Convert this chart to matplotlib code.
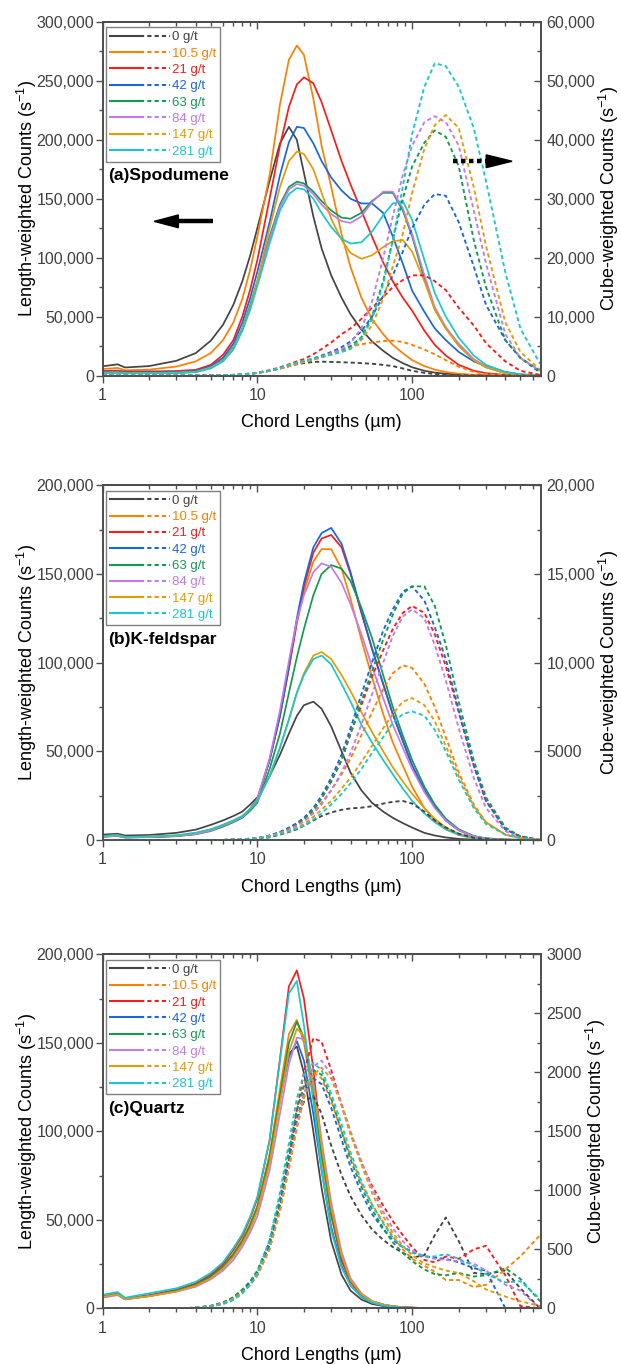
import numpy as np
import matplotlib
matplotlib.use("Agg")
import matplotlib.pyplot as plt
from matplotlib.lines import Line2D
from matplotlib.legend_handler import HandlerTuple
from matplotlib.ticker import FuncFormatter, MultipleLocator, NullFormatter, LogLocator

plt.rcParams['font.family'] = ['Liberation Sans', 'DejaVu Sans']
plt.rcParams['mathtext.default'] = 'regular'

# chord length channels (um), shared by all panels
chord = [1, 1.25, 1.4, 2, 3, 4, 5, 6, 7, 8, 9, 10, 12, 14, 16, 18, 20, 23, 26, 30, 35,
         40, 47, 55, 65, 75, 87, 100, 120, 140, 165, 200, 250, 300, 400, 500, 670]

labels = ['0 g/t', '10.5 g/t', '21 g/t', '42 g/t', '63 g/t', '84 g/t', '147 g/t', '281 g/t']
colors = ['#444444', '#ff7f00', '#ff1a1a', '#1a66e0', '#129b4f', '#c27be8', '#e69a06', '#19c8cc']

# (a) Spodumene - length weighted (thousands of counts/s)
spod_len = [
    [7.8, 9.5, 6.8, 8, 12.5, 19, 29.5, 43, 60, 80, 102, 125, 165, 197, 211, 200, 172, 135, 108, 85, 66, 52, 39, 29, 21, 15, 10.5, 7, 4, 2.5, 1.5, 0.8, 0.4, 0.2, 0.1, 0, 0],
    [5.5, 6.4, 4.4, 5, 7.6, 12, 19, 30, 45, 65, 90, 118, 170, 230, 268, 280, 272, 235, 195, 160, 120, 92, 66, 48, 35, 26, 19, 13, 8, 5, 3, 1.5, 0.6, 0.3, 0.1, 0, 0],
    [3.8, 4.2, 3.3, 3.5, 3.8, 4.8, 9, 17.5, 30, 50, 73, 98, 150, 195, 228, 247, 253, 248, 232, 208, 182, 162, 140, 118, 96, 80, 66, 55, 38, 26, 17, 9, 4, 2, 0.5, 0.1, 0],
    [3, 3.3, 2.6, 2.8, 3, 4, 8, 15, 27, 45, 66, 88, 130, 170, 198, 211, 210, 197, 182, 168, 157, 150, 146, 146, 138, 118, 95, 72, 54, 40, 30, 20, 12, 8, 3, 1, 0],
    [2.5, 2.8, 2.2, 2.3, 2.5, 3.3, 7, 13, 24, 40, 60, 80, 118, 145, 160, 164.5, 163, 156, 148, 140, 134, 133, 138, 148, 155, 155, 140, 118, 82, 56, 40, 26, 13, 7, 2, 0.6, 0],
    [2.4, 2.7, 2.1, 2.2, 2.4, 3.2, 6.8, 12.5, 23, 39, 58, 78, 116, 143, 158, 162.5, 161, 154, 145, 137, 131, 129.5, 135, 147, 156, 156, 142, 120, 85, 58, 41, 27, 14, 7.5, 2.2, 0.7, 0],
    [2.2, 2.5, 2, 2.1, 2.3, 3, 6.5, 12.5, 23, 39, 58, 80, 125, 160, 182, 190, 188, 175, 155, 133, 115, 104, 99, 102, 109, 114, 115, 105, 80, 56, 40, 25, 13, 7, 2, 0.6, 0],
    [2, 2.3, 1.8, 1.9, 2, 2.8, 6, 12, 22, 38, 56, 76, 112, 140, 154, 159, 158, 150, 138, 126, 116, 112, 113, 122, 136, 146, 148, 132, 98, 70, 50, 32, 17, 9, 3, 1, 0],
]
# (a) Spodumene - cube weighted (thousands of counts/s)
spod_cube = [
    [0, 0, 0, 0, 0, 0, 0, 0.05, 0.1, 0.2, 0.3, 0.45, 0.8, 1.2, 1.6, 1.9, 2.1, 2.3, 2.35, 2.3, 2.25, 2.2, 2.1, 2.0, 1.8, 1.6, 1.2, 0.8, 0.45, 0.25, 0.12, 0.05, 0, 0, 0, 0, 0],
    [0, 0, 0, 0, 0, 0, 0, 0.05, 0.1, 0.2, 0.3, 0.45, 0.8, 1.2, 1.6, 2.0, 2.3, 2.8, 3.2, 3.8, 4.4, 4.9, 5.3, 5.6, 5.85, 5.9, 5.7, 5.2, 4.4, 3.6, 2.6, 1.5, 0.6, 0.25, 0.05, 0, 0],
    [0, 0, 0, 0, 0, 0, 0, 0.05, 0.1, 0.2, 0.35, 0.5, 0.9, 1.4, 1.9, 2.4, 2.8, 3.6, 4.5, 5.6, 7, 8, 9.6, 11.5, 13.3, 15, 16.2, 17, 17, 16, 14.5, 11.5, 8.5, 5.5, 2.4, 0.8, 0.1],
    [0, 0, 0, 0, 0, 0, 0, 0.05, 0.1, 0.2, 0.3, 0.45, 0.8, 1.2, 1.6, 2, 2.4, 2.9, 3.4, 4, 4.8, 5.8, 7.5, 10, 13.5, 17, 21, 25, 29, 30.8, 30.5, 26, 18.5, 12, 6, 3, 0.5],
    [0, 0, 0, 0, 0, 0, 0, 0.05, 0.1, 0.2, 0.3, 0.45, 0.8, 1.2, 1.6, 2, 2.3, 2.7, 3.1, 3.6, 4.3, 5, 6.5, 10, 16, 23, 30, 35.5, 39.5, 41.6, 40.5, 35.5, 23, 15, 6, 3, 0.8],
    [0, 0, 0, 0, 0, 0, 0, 0.05, 0.1, 0.2, 0.3, 0.45, 0.8, 1.2, 1.6, 2, 2.3, 2.8, 3.2, 3.8, 4.4, 5.5, 8, 12.5, 20, 27, 34, 39, 43, 44, 43, 39, 28, 19, 7, 3, 0.8],
    [0, 0, 0, 0, 0, 0, 0, 0.05, 0.1, 0.2, 0.3, 0.45, 0.8, 1.2, 1.6, 2, 2.3, 2.7, 3.1, 3.5, 4, 4.6, 6, 8.5, 13, 18.5, 24, 31, 38.5, 42.5, 44.2, 42, 32, 22, 9, 4, 1],
    [0, 0, 0, 0, 0, 0, 0, 0.05, 0.1, 0.2, 0.3, 0.4, 0.8, 1.3, 1.8, 2.2, 2.5, 2.9, 3.2, 3.6, 4, 4.5, 6.3, 9.5, 15.5, 23, 32, 41, 49, 53, 52.5, 49, 42, 33, 17.5, 8, 2],
]

# (b) K-feldspar - length weighted (thousands)
kfel_len = [
    [3, 3.5, 2.5, 2.8, 4, 5.8, 8.5, 11, 13.5, 16, 20, 24, 36, 48, 60, 70, 76, 78, 74, 64, 50, 38, 28, 21, 16, 12.5, 9.5, 7, 4, 2.5, 1.4, 0.6, 0.2, 0.1, 0, 0, 0],
    [2, 2.5, 1.5, 1.7, 2.3, 3.5, 5.5, 8, 10.5, 13, 17.5, 23, 45, 70, 97, 122, 140, 157, 164, 164, 153, 136, 113, 92, 71, 55, 42, 30, 18, 11, 6, 2.8, 0.9, 0.3, 0.1, 0, 0],
    [2, 2.5, 1.5, 1.7, 2.3, 3.5, 5.5, 8, 10.5, 13, 17.5, 23, 45, 70, 97, 123, 143, 162, 170, 172, 165, 150, 128, 108, 88, 71, 56, 42, 28, 19, 11, 5.5, 2, 0.8, 0.2, 0, 0],
    [2, 2.5, 1.5, 1.7, 2.3, 3.5, 5.5, 8, 10.5, 13, 17.5, 23, 45, 70, 98, 125, 145, 165, 173, 176, 167, 151, 129, 108, 88, 71, 56, 42, 28, 19, 11, 5.5, 2, 0.8, 0.2, 0, 0],
    [1.8, 2.3, 1.4, 1.6, 2.1, 3.2, 5, 7.5, 10, 12.5, 16.5, 21, 40, 60, 83, 103, 119, 138, 150, 155, 153, 146, 131, 114, 93, 75, 59, 45, 30, 20, 12, 6, 2.2, 0.9, 0.2, 0, 0],
    [1.8, 2.3, 1.4, 1.6, 2.2, 3.3, 5.3, 8, 10.5, 13, 17.5, 23, 46, 73, 101, 124, 138, 151, 156, 154, 145, 133, 116, 98, 80, 65, 52, 40, 27, 18, 11, 5.5, 2, 0.8, 0.2, 0, 0],
    [2.2, 2.7, 1.7, 1.9, 2.6, 4, 6, 8.5, 11, 13.5, 17.5, 22, 36, 52, 68, 83, 94, 104, 106, 102, 93, 84, 72, 61, 50, 41, 33, 26, 18, 12, 7, 3.5, 1.2, 0.5, 0.1, 0, 0],
    [2.2, 2.7, 1.7, 1.9, 2.6, 4, 6, 8.5, 11, 13.5, 17.5, 22, 36, 52, 68, 83, 93, 102, 104, 99, 88, 78, 65, 55, 45, 37, 29, 22, 15, 10, 6, 3, 1, 0.4, 0.1, 0, 0],
]
# (b) K-feldspar - cube weighted (thousands)
kfel_cube = [
    [0, 0, 0, 0, 0, 0, 0, 0, 0, 0, 0, 0.05, 0.15, 0.3, 0.45, 0.6, 0.8, 1.1, 1.35, 1.55, 1.7, 1.78, 1.82, 1.9, 2.05, 2.15, 2.2, 2.05, 1.6, 1.1, 0.7, 0.35, 0.12, 0.05, 0, 0, 0],
    [0, 0, 0, 0, 0, 0, 0, 0, 0.02, 0.04, 0.07, 0.1, 0.22, 0.4, 0.6, 0.85, 1.1, 1.55, 2.1, 2.8, 3.7, 4.6, 5.9, 7.2, 8.5, 9.4, 9.85, 9.7, 8.8, 7.5, 5.8, 3.8, 2, 1, 0.3, 0.1, 0],
    [0, 0, 0, 0, 0, 0, 0, 0, 0.02, 0.04, 0.07, 0.1, 0.24, 0.43, 0.67, 0.9, 1.2, 1.7, 2.35, 3.3, 4.5, 6, 7.6, 9.2, 10.7, 11.9, 12.8, 13.2, 12.8, 11.6, 9.8, 7.2, 4.2, 2.2, 0.6, 0.2, 0],
    [0, 0, 0, 0, 0, 0, 0, 0, 0.02, 0.04, 0.07, 0.1, 0.25, 0.45, 0.7, 0.95, 1.25, 1.8, 2.5, 3.5, 4.8, 6.3, 8.2, 10, 11.8, 13, 14, 14.3, 13.5, 12, 10.2, 7.3, 4.2, 2.2, 0.6, 0.2, 0],
    [0, 0, 0, 0, 0, 0, 0, 0, 0.02, 0.04, 0.07, 0.1, 0.24, 0.43, 0.67, 0.9, 1.2, 1.7, 2.35, 3.3, 4.5, 6, 7.8, 9.5, 11.3, 12.7, 13.9, 14.3, 14.3, 13.2, 11, 7.8, 4.5, 2.4, 0.7, 0.2, 0],
    [0, 0, 0, 0, 0, 0, 0, 0, 0.02, 0.04, 0.07, 0.1, 0.22, 0.4, 0.6, 0.8, 1.05, 1.5, 2, 2.8, 3.8, 4.9, 6.5, 8.2, 10, 11.5, 12.6, 13, 12.5, 11, 9, 6.3, 3.5, 1.8, 0.5, 0.1, 0],
    [0, 0, 0, 0, 0, 0, 0, 0, 0.02, 0.04, 0.06, 0.09, 0.2, 0.35, 0.5, 0.7, 0.9, 1.3, 1.7, 2.2, 2.9, 3.5, 4.4, 5.3, 6.3, 7.1, 7.8, 8, 7.6, 6.7, 5.3, 3.6, 1.9, 1, 0.3, 0.1, 0],
    [0, 0, 0, 0, 0, 0, 0, 0, 0.02, 0.04, 0.06, 0.09, 0.19, 0.33, 0.48, 0.65, 0.8, 1.15, 1.5, 2, 2.6, 3.2, 4, 4.9, 5.8, 6.6, 7.1, 7.25, 7, 6.2, 5, 3.4, 1.8, 0.9, 0.3, 0.1, 0],
]

# (c) Quartz - length weighted (thousands)
qtz_len = [
    [6.5, 8, 5.2, 7, 9.8, 13, 17.5, 23, 30, 38, 47, 57, 86, 120, 144, 148, 133, 100, 68, 38, 19, 10, 5, 2.5, 1.3, 0.7, 0.4, 0.2, 0.1, 0.1, 0, 0, 0, 0, 0, 0, 0],
    [6.5, 8.2, 5.3, 7, 10, 13.5, 18.5, 24, 31, 39, 48, 58, 87, 124, 155, 163, 150, 118, 85, 52, 28, 15, 7.5, 3.8, 2, 1.1, 0.6, 0.35, 0.2, 0.1, 0.1, 0, 0, 0, 0, 0, 0],
    [6.8, 8.5, 5.5, 7.5, 10.5, 14, 19, 25, 33, 41, 51, 62, 95, 141, 182, 191, 175, 135, 92, 53, 27, 15, 7.5, 3.8, 2, 1.1, 0.6, 0.35, 0.2, 0.1, 0.1, 0, 0, 0, 0, 0, 0],
    [6.5, 8, 5.2, 7, 9.8, 13, 17.5, 23, 29.5, 37, 46, 56, 84, 118, 142, 151, 140, 110, 78, 46, 24, 13, 6.5, 3.2, 1.7, 1, 0.5, 0.3, 0.2, 0.1, 0.1, 0, 0, 0, 0, 0, 0],
    [6.5, 8.2, 5.3, 7, 10, 13.3, 18, 23.5, 30.5, 38, 47, 57, 85, 120, 150, 162, 153, 122, 88, 54, 29, 16, 8, 4, 2.1, 1.2, 0.6, 0.35, 0.2, 0.1, 0.1, 0, 0, 0, 0, 0, 0],
    [6, 7.5, 5, 7, 9.4, 12.2, 16.4, 21.3, 27.3, 34.8, 43, 52, 78, 110, 138, 153, 152, 128, 95, 60, 32, 17, 8.5, 4.2, 2.2, 1.2, 0.6, 0.35, 0.2, 0.1, 0.1, 0, 0, 0, 0, 0, 0],
    [6.5, 8, 5.2, 6.8, 9.5, 12.8, 17, 22.5, 29, 36.5, 45, 55, 82, 116, 145, 158, 154, 126, 92, 57, 30, 16, 8, 4, 2.1, 1.2, 0.6, 0.35, 0.2, 0.1, 0.1, 0, 0, 0, 0, 0, 0],
    [7.7, 9.2, 6, 8.5, 11.3, 15, 20, 26, 34, 42, 52, 63, 95, 140, 178, 185, 160, 118, 78, 44, 23, 13, 6.5, 3.2, 1.6, 0.9, 0.5, 0.3, 0.2, 0.1, 0.1, 0, 0, 0, 0, 0, 0],
]
# (c) Quartz - cube weighted (counts/s)
qtz_cube = [
    [0, 0, 0, 0, 0, 5, 20, 45, 90, 150, 220, 300, 540, 880, 1250, 1600, 1750, 1800, 1650, 1380, 1130, 950, 790, 670, 580, 520, 470, 430, 450, 620, 770, 570, 300, 290, 320, 170, 0],
    [0, 0, 0, 0, 0, 5, 20, 45, 90, 150, 220, 310, 560, 920, 1320, 1680, 1900, 2000, 1950, 1760, 1500, 1290, 1060, 880, 730, 610, 500, 420, 360, 310, 240, 240, 180, 200, 330, 440, 620],
    [0, 0, 0, 0, 0, 5, 18, 40, 80, 135, 200, 280, 520, 860, 1260, 1680, 2000, 2290, 2260, 2020, 1720, 1480, 1230, 1040, 870, 740, 620, 520, 410, 390, 440, 420, 500, 530, 280, 20, 0],
    [0, 0, 0, 0, 0, 5, 20, 45, 90, 150, 220, 300, 540, 880, 1260, 1600, 1820, 1950, 1900, 1700, 1430, 1200, 980, 800, 670, 580, 520, 480, 440, 430, 420, 390, 340, 320, 0, 0, 0],
    [0, 0, 0, 0, 0, 5, 22, 50, 95, 160, 230, 320, 570, 930, 1330, 1680, 1880, 2020, 1980, 1780, 1500, 1260, 1030, 840, 680, 560, 470, 400, 330, 290, 280, 300, 270, 280, 340, 250, 60],
    [0, 0, 0, 0, 0, 5, 18, 40, 80, 135, 200, 280, 500, 830, 1200, 1550, 1820, 2050, 2100, 1980, 1740, 1500, 1250, 1020, 820, 680, 570, 490, 440, 420, 410, 400, 380, 320, 200, 150, 0],
    [0, 0, 0, 0, 0, 5, 18, 40, 80, 135, 200, 280, 500, 820, 1180, 1520, 1780, 1980, 2040, 1950, 1720, 1480, 1220, 980, 780, 640, 530, 450, 380, 350, 320, 300, 230, 160, 100, 60, 20],
    [0, 0, 0, 0, 0, 5, 15, 35, 70, 125, 200, 300, 580, 980, 1400, 1780, 1980, 2080, 2020, 1820, 1560, 1320, 1080, 880, 720, 600, 520, 470, 440, 440, 460, 420, 360, 290, 220, 230, 80],
]

spine_c = '#4d4d4d'
tick_c = '#404040'


def count_fmt(v, pos):
    """Comma for 10,000 and up, plain below (as in the figure)."""
    if v >= 10000:
        return f'{v:,.0f}'
    return f'{v:.0f}'


def draw_panel(fig, rect, solid, dashed, left_max, left_step, right_max, right_step,
               right_scale, title):
    ax = fig.add_axes(rect)
    ax2 = ax.twinx()

    for ys, c in zip(solid, colors):
        ax.plot(chord, np.array(ys) * 1000, color=c, lw=1.25)
    for ys, c in zip(dashed, colors):
        ax2.plot(chord, np.array(ys) * right_scale, color=c, lw=1.35, ls=(0, (2.2, 1.6)))

    ax.set_xscale('log')
    ax.set_xlim(1, 680)
    ax.set_ylim(0, left_max)
    ax2.set_ylim(0, right_max)

    ax.xaxis.set_major_formatter(FuncFormatter(lambda v, p: f'{v:g}'))
    ax.xaxis.set_minor_formatter(NullFormatter())
    ax.yaxis.set_major_locator(MultipleLocator(left_step))
    ax.yaxis.set_minor_locator(MultipleLocator(left_step / 2))
    ax.yaxis.set_major_formatter(FuncFormatter(count_fmt))
    ax2.yaxis.set_major_locator(MultipleLocator(right_step))
    ax2.yaxis.set_minor_locator(MultipleLocator(right_step / 2))
    ax2.yaxis.set_major_formatter(FuncFormatter(count_fmt))

    # left/bottom ticks point out, right/top ticks point in
    ax.tick_params(axis='both', which='both', direction='out', color=spine_c,
                   labelcolor=tick_c, labelsize=11.5, width=1)
    ax.tick_params(which='major', length=5)
    ax.tick_params(which='minor', length=3)
    ax.tick_params(axis='y', pad=1)
    ax.tick_params(axis='x', pad=4)
    ax2.tick_params(axis='y', which='both', direction='in', color=spine_c,
                    labelcolor=tick_c, labelsize=11.5, width=1, pad=4)
    ax2.tick_params(which='major', length=5)
    ax2.tick_params(which='minor', length=3)

    top = ax.secondary_xaxis('top')
    top.xaxis.set_major_locator(LogLocator(base=10))
    top.xaxis.set_minor_locator(LogLocator(base=10, subs=np.arange(2, 10)))
    top.tick_params(which='both', direction='in', labeltop=False, color=spine_c, width=1)
    top.tick_params(which='major', length=5)
    top.tick_params(which='minor', length=3)
    top.spines['top'].set_color(spine_c)
    top.spines['top'].set_linewidth(1.2)

    for a in (ax, ax2):
        for s in a.spines.values():
            s.set_color(spine_c)
            s.set_linewidth(1.2)

    ax.set_xlabel('Chord Lengths (\u00b5m)', fontsize=13, labelpad=8)
    ax.set_ylabel('Length-weighted Counts (s$^{-1}$)', fontsize=13, labelpad=-2)
    ax2.set_ylabel('Cube-weighted Counts (s$^{-1}$)', fontsize=13, labelpad=1)

    # legend: solid + dashed sample per loading
    handles = [(Line2D([], [], color=c, lw=1.5),
                Line2D([], [], color=c, lw=1.5, ls=(0, (2, 1.5)))) for c in colors]
    leg = ax2.legend(handles, labels, handler_map={tuple: HandlerTuple(ndivide=None, pad=0.05)},
                     loc='upper left', bbox_to_anchor=(0.007, 0.985), fancybox=False,
                     edgecolor='#808080', fontsize=9.5, handlelength=4.6, handletextpad=0.1,
                     labelspacing=0.31, borderpad=0.3, borderaxespad=0, framealpha=1)
    leg.get_frame().set_linewidth(1)
    for t, c in zip(leg.get_texts(), colors):
        t.set_color(c)

    ax.text(0.012, 0.566, title, transform=ax.transAxes, fontsize=12.5,
            fontweight='bold', va='center', ha='left')
    return ax, ax2


fig = plt.figure(figsize=(6.21, 13.64), dpi=100)

ax_a, ax_a2 = draw_panel(fig, [0.1651, 0.7247, 0.7061, 0.2592], spod_len, spod_cube,
                         300000, 50000, 60000, 10000, 1000, '(a)Spodumene')
ax_b, ax_b2 = draw_panel(fig, [0.1651, 0.3842, 0.7061, 0.2600], kfel_len, kfel_cube,
                         200000, 50000, 20000, 5000, 1000, '(b)K-feldspar')
ax_c, ax_c2 = draw_panel(fig, [0.1651, 0.0408, 0.7061, 0.2595], qtz_len, qtz_cube,
                         200000, 50000, 3000, 500, 1, '(c)Quartz')

# direction arrows in panel (a): solid -> left axis, dotted -> right axis
ax_a2.plot([0.170, 0.253], [0.436, 0.436], transform=ax_a2.transAxes, color='k', lw=3.2,
           solid_capstyle='butt')
ax_a2.fill([0.173, 0.118, 0.173], [0.418, 0.436, 0.454], transform=ax_a2.transAxes, color='k')
ax_a2.plot([0.799, 0.878], [0.606, 0.606], transform=ax_a2.transAxes, color='k', lw=3.2,
           ls=(0, (1, 0.8)), solid_capstyle='butt')
ax_a2.fill([0.875, 0.934, 0.875], [0.588, 0.606, 0.624], transform=ax_a2.transAxes, color='k')

fig.savefig('out.png', dpi=100)
